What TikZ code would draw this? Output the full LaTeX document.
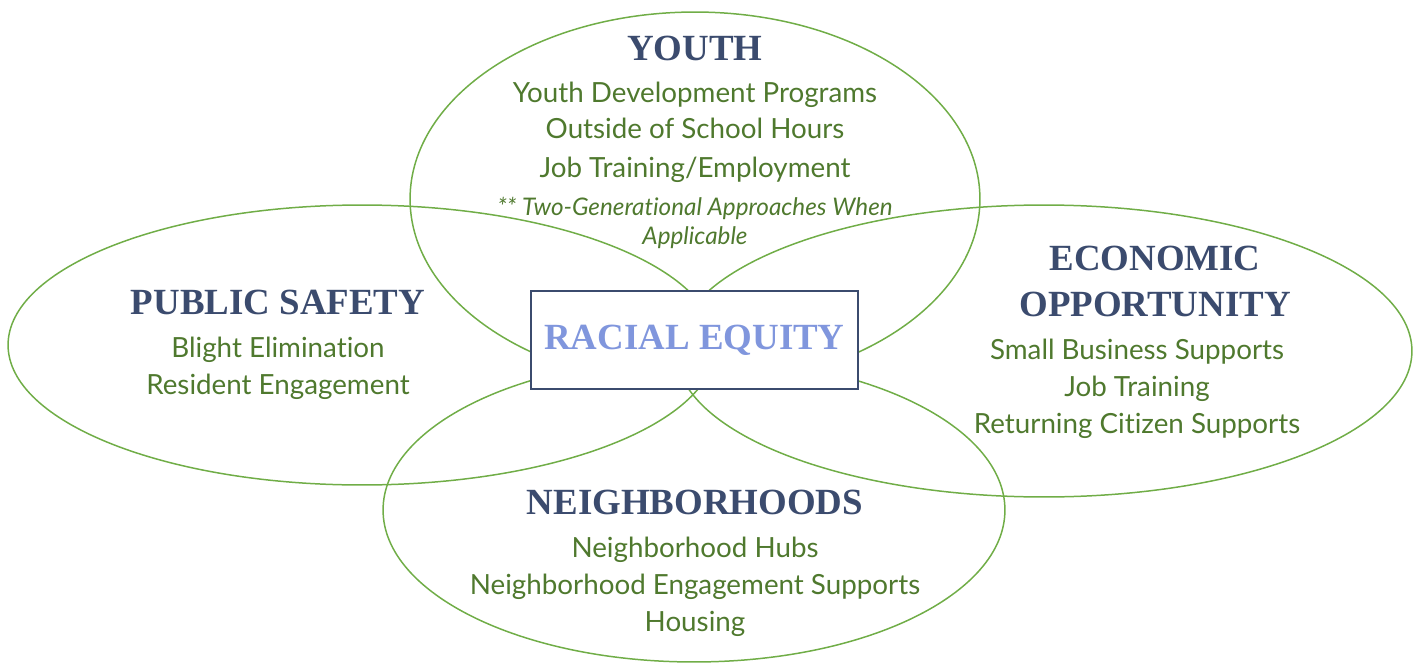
\documentclass[tikz,border=0pt]{standalone}
\usepackage{fontspec}
\setmainfont{Lato}[Ligatures=NoCommon]
\newfontfamily\headfont{Liberation Serif}
\usepackage{tikz}
\usepackage{xcolor}
\usetikzlibrary{positioning,shapes}

\definecolor{ringgreen}{RGB}{112, 173, 71}
\definecolor{itemgreen}{RGB}{79, 121, 46}
\definecolor{headnavy}{RGB}{59, 75, 110}
\definecolor{equityblue}{RGB}{128, 150, 221}

\tikzset{
  ring/.style={draw=ringgreen, line width=0.85pt},
  heading/.style={font=\headfont\bfseries\fontsize{21}{25}\selectfont, text=headnavy, inner sep=0pt},
  item/.style={font=\fontsize{15.8}{21}\selectfont, text=itemgreen, inner sep=0pt},
  note/.style={font=\itshape\fontsize{13.8}{16.5}\selectfont, text=itemgreen, inner sep=0pt, align=center}
}

\begin{document}
\begin{tikzpicture}[x=0.02cm, y=-0.02cm]
                \useasboundingbox (0,0) rectangle (1420,666);
                % Four overlapping areas
                \draw[ring] (695,199) ellipse [x radius=5.7cm, y radius=3.74cm];
                \draw[ring] (362,345) ellipse [x radius=7.08cm, y radius=2.8cm];
                \draw[ring] (1044,351) ellipse [x radius=7.36cm, y radius=2.92cm];
                \draw[ring] (694,510) ellipse [x radius=6.22cm, y radius=3.04cm];
                % Centre box
                \node[draw=headnavy, line width=1.2pt, fill=white, minimum width=6.54cm, minimum height=1.96cm,
                      font=\headfont\bfseries\fontsize{21}{25}\selectfont, text=equityblue] (equity) at (694.5,340) {RACIAL EQUITY};
                % Youth
                \node[heading] (youth) at (695,48) {YOUTH};
                \node[item] (youthdev) at (695,95) {Youth Development Programs};
                \node[item] (youthhours) at (695,128) {Outside of School Hours};
                \node[item] (youthjobs) at (695,170) {Job Training/Employment};
                \node[note] (youthnote) at (695,223) {** Two-Generational Approaches When\\Applicable};
                % Public safety
                \node[heading] (safety) at (278,302) {PUBLIC SAFETY};
                \node[item] (blight) at (278,350) {Blight Elimination};
                \node[item] (resident) at (278,387) {Resident Engagement};
                % Economic opportunity
                \node[heading] (econ) at (1155,258) {ECONOMIC};
                \node[heading] (oppty) at (1155,304) {OPPORTUNITY};
                \node[item] (smallbiz) at (1137,352) {Small Business Supports};
                \node[item] (econjobs) at (1137,389) {Job Training};
                \node[item] (citizen) at (1137,426) {Returning Citizen Supports};
                % Neighborhoods
                \node[heading] (hoods) at (695,502) {NEIGHBORHOODS};
                \node[item] (hubs) at (695,550) {Neighborhood Hubs};
                \node[item] (engage) at (695,587) {Neighborhood Engagement Supports};
                \node[item] (housing) at (695,624) {Housing};
\end{tikzpicture}
\end{document}
